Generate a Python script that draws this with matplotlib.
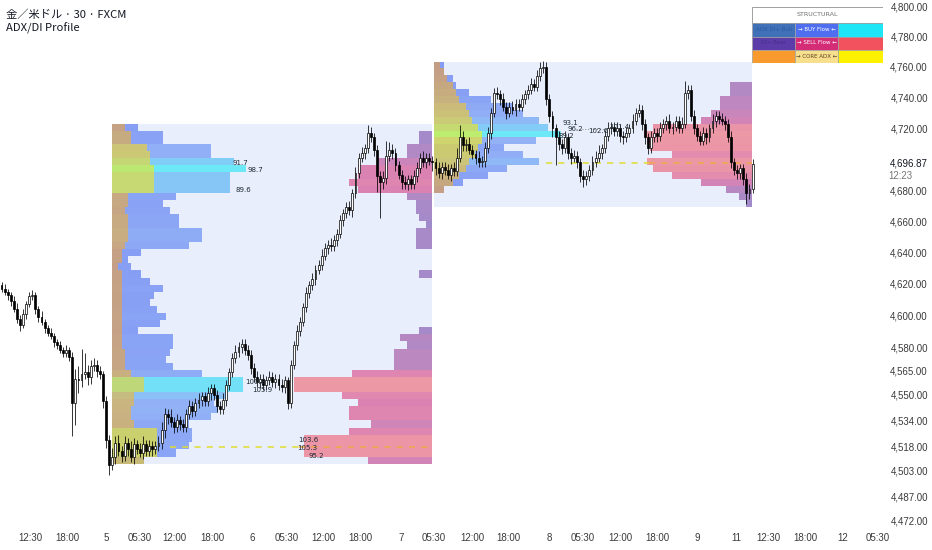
import matplotlib.pyplot as plt
import matplotlib.colors as mcolors
from matplotlib.patches import Rectangle
from matplotlib.ticker import NullLocator

plt.rcParams['font.family'] = ['DejaVu Sans Condensed', 'Liberation Sans Narrow', 'Liberation Sans', 'DejaVu Sans']

# ---- 30 min candles (XAU/USD) ----
first_open = 4619.0
closes = [
    4617, 4615, 4613, 4609, 4604, 4598, 4594, 4601, 4607, 4612,
    4613, 4604, 4599, 4596, 4592, 4589, 4587, 4583, 4581, 4578,
    4576, 4578, 4574, 4545, 4560, 4559, 4563, 4564, 4561, 4568,
    4569, 4565, 4563, 4546, 4522, 4506, 4511, 4520, 4515, 4512,
    4520, 4516, 4511, 4519, 4516, 4514, 4519, 4515, 4518, 4516,
    4518, 4520, 4528, 4538, 4536, 4533, 4530, 4534, 4532, 4530,
    4538, 4543, 4540, 4545, 4547, 4549, 4546, 4551, 4554, 4550,
    4543, 4541, 4547, 4556, 4564, 4573, 4577, 4580, 4582, 4578,
    4575, 4567, 4561, 4558, 4560, 4556, 4559, 4561, 4558, 4560,
    4556, 4555, 4559, 4545, 4569, 4581, 4590, 4596, 4605, 4614,
    4619, 4623, 4629, 4632, 4638, 4643, 4645, 4644, 4648, 4652,
    4661, 4665, 4669, 4667, 4678, 4691, 4701, 4704, 4707, 4717,
    4714, 4706, 4689, 4685, 4688, 4702, 4706, 4704, 4696, 4690,
    4685, 4684, 4687, 4684, 4689, 4694, 4701, 4698, 4701, 4699,
    4698, 4694, 4691, 4695, 4693, 4690, 4694, 4692, 4701, 4714,
    4709, 4710, 4706, 4703, 4701, 4698, 4699, 4707, 4717, 4730,
    4743, 4742, 4739, 4734, 4730, 4734, 4732, 4736, 4734, 4739,
    4742, 4745, 4749, 4747, 4754, 4759, 4760, 4739, 4728, 4720,
    4714, 4710, 4707, 4714, 4704, 4701, 4702, 4698, 4689, 4687,
    4689, 4693, 4698, 4701, 4704, 4707, 4715, 4720, 4721, 4718,
    4720, 4715, 4714, 4717, 4720, 4725, 4730, 4732, 4723, 4714,
    4707, 4714, 4717, 4715, 4720, 4723, 4725, 4720, 4721, 4725,
    4720, 4723, 4743, 4745, 4728, 4720, 4715, 4712, 4717, 4714,
    4720, 4725, 4728, 4726, 4725, 4723, 4714, 4698, 4693, 4691,
    4694, 4687, 4678, 4681, 4696.87,
]
upper_wick = [
    2, 3, 2, 2, 3, 4, 2, 3, 2, 3,   3, 2, 2, 4, 2, 2, 3, 2, 2, 3,
    2, 3, 2, 3, 6, 8, 16, 12, 5, 4,  4, 3, 3, 2, 3, 3, 6, 4, 5, 3,
    4, 3, 5, 4, 3, 4, 5, 3, 4, 3,   3, 4, 5, 4, 3, 5, 3, 4, 3, 3,
    3, 4, 3, 3, 4, 3, 3, 4, 3, 3,   3, 3, 4, 3, 3, 3, 4, 3, 3, 3,
    3, 3, 3, 4, 3, 3, 3, 4, 3, 3,   3, 4, 3, 2, 3, 3, 4, 3, 3, 4,
    3, 4, 3, 3, 4, 3, 3, 4, 3, 3,   3, 3, 3, 4, 3, 4, 3, 4, 3, 5,
    4, 3, 3, 3, 4, 10, 5, 4, 3, 3,  3, 4, 3, 3, 4, 4, 3, 4, 3, 3,
    3, 3, 4, 3, 3, 4, 3, 4, 6, 8,   4, 3, 4, 3, 3, 4, 3, 4, 4, 3,
    3, 4, 3, 4, 3, 3, 4, 3, 3, 3,   3, 3, 4, 3, 4, 4, 4, 3, 3, 3,
    3, 4, 3, 4, 3, 3, 4, 3, 3, 4,   3, 3, 4, 4, 5, 3, 4, 4, 3, 3,
    4, 3, 3, 4, 3, 4, 3, 4, 3, 3,   3, 4, 3, 3, 4, 3, 3, 4, 3, 3,
    3, 4, 8, 3, 3, 4, 3, 3, 4, 3,   3, 4, 3, 3, 4, 3, 3, 4, 3, 3,
    3, 3, 4, 3, 3,
]
lower_wick = [
    2, 2, 3, 3, 2, 3, 4, 2, 3, 2,   2, 3, 3, 2, 3, 2, 2, 3, 2, 2,
    2, 2, 3, 21, 14, 8, 4, 3, 5, 4, 3, 4, 3, 4, 5, 6, 3, 4, 3, 4,
    3, 4, 3, 4, 3, 3, 4, 3, 3, 4,   3, 3, 4, 5, 4, 3, 4, 3, 4, 3,
    3, 3, 4, 3, 3, 4, 3, 3, 4, 3,   4, 3, 3, 4, 3, 3, 3, 3, 4, 3,
    3, 4, 3, 3, 4, 3, 3, 3, 3, 4,   3, 3, 4, 4, 3, 3, 3, 3, 3, 3,
    3, 3, 4, 3, 3, 3, 4, 3, 3, 4,   3, 4, 3, 3, 4, 3, 3, 3, 4, 3,
    3, 4, 10, 23, 4, 4, 3, 4, 4, 3, 4, 3, 4, 3, 3, 4, 3, 3, 4, 3,
    6, 4, 3, 4, 3, 3, 4, 3, 3, 3,   4, 4, 3, 3, 4, 3, 3, 4, 3, 4,
    3, 3, 4, 3, 4, 3, 3, 4, 3, 3,   3, 3, 3, 3, 3, 3, 3, 4, 4, 6,
    18, 4, 4, 3, 4, 4, 3, 4, 4, 5,  4, 3, 3, 3, 3, 4, 3, 3, 4, 3,
    3, 4, 4, 3, 3, 3, 3, 3, 4, 4,   4, 3, 3, 4, 3, 3, 4, 3, 4, 3,
    3, 3, 3, 4, 3, 4, 3, 3, 3, 4,   3, 3, 4, 3, 3, 4, 3, 4, 3, 4,
    4, 4, 7, 4, 3,
]

# ---- ADX/DI volume-style profiles (percent of profile width per 4.5 row) ----
row_size = 4.5
p1_span = (35.9, 139.9)
p1_base = 4507.0
p1_buy = [10, 20, 24, 25, 25, 24, 31, 33, 32, 36, 41, 41, 28, 19, 17, 18, 19, 19, 8, 15,
          17, 14, 12, 13, 16, 12, 9, 6, 5, 9, 24, 28, 28, 21, 21, 18, 16, 20, 37, 37,
          37, 42, 38, 31, 31, 16, 16, 8]
p1_core = [10, 14, 14, 14, 14, 7, 6, 6, 7, 7, 10, 10, 6, 4, 4, 4, 3, 3, 3, 3,
           3, 3, 3, 3, 3, 3, 3, 2, 3, 3, 4, 5, 5, 5, 5, 4, 5, 5, 13, 13,
           13, 13, 12, 12, 11, 6, 6, 4]
p1_sell = [20, 40, 40, 40, 26, 19, 26, 26, 23, 28, 43, 43, 25, 12, 12, 12, 8, 10, 4, 0,
           0, 0, 0, 0, 0, 0, 4, 0, 0, 0, 5, 5, 5, 2, 4, 5, 5, 8, 23, 26,
           23, 23, 17, 8, 8, 4, 4, 0]

p2_span = (140.5, 243.8)
p2_base = 4669.0
p2_buy = [0, 0, 3, 9, 17, 23, 33, 28, 22, 32, 40, 36, 33, 28, 25, 18, 11, 7, 6, 3, 3]
p2_core = [0, 0, 3, 6, 8, 10, 11, 13, 14, 15, 15, 14, 12, 11, 10, 8, 7, 6, 4, 3, 2]
p2_sell = [2, 4, 8, 16, 25, 31, 33, 25, 32, 33, 34, 31, 16, 13, 10, 10, 7, 7, 0, 0, 0]

# DI readings printed inside the profiles: (text, bar, price)
di_labels = [
    ("91.7", 75.2, 4697.5), ("98.7", 79.8, 4693.0), ("89.6", 75.9, 4680.0),
    ("100.8", 79.1, 4558.0), ("105.9", 81.4, 4553.0),
    ("103.6", 96.3, 4522.0), ("105.3", 96.0, 4517.0), ("95.2", 99.6, 4512.0),
    ("93.1", 182.4, 4723.5), ("96.2", 184.0, 4719.8), ("102.6", 190.5, 4718.0),
    ("89.2", 180.8, 4715.0), ("101.4", 197.5, 4720.5),
]
# core levels: (bar from, bar to, price)
core_levels = [(54.8, 96.5, 4517.4), (96.5, 139.9, 4517.4),
               (177.0, 210.5, 4697.6), (210.5, 243.8, 4697.6)]
grey_levels = [(186.5, 197.5, 4719.5)]

yticks = [4800, 4780, 4760, 4740, 4720, 4680, 4660, 4640, 4620, 4600, 4580,
          4565, 4550, 4534, 4518, 4503, 4487, 4472]
xtick_pos = [9.3, 21.3, 34.0, 45.0, 56.0, 68.4, 81.4, 92.8, 104.5, 116.5, 129.8, 140.5,
             152.9, 164.6, 177.9, 188.9, 201.0, 213.0, 226.0, 238.6, 249.0, 261.0, 273.4, 284.8]
xtick_text = ['12:30', '18:00', '5', '05:30', '12:00', '18:00', '6', '05:30', '12:00', '18:00',
              '7', '05:30', '12:00', '18:00', '8', '05:30', '12:00', '18:00', '9', '11',
              '12:30', '18:00', '12', '05:30']

fig = plt.figure(figsize=(9.32, 5.5), dpi=100)
ax = fig.add_axes([0, 24 / 550, 1, 526 / 550])
ax.set_yscale('log')
ax.set_ylim(4468.6, 4804.0)
ax.set_xlim(-0.49, 302.3)
for s in ax.spines.values():
    s.set_visible(False)

buy_cmap = mcolors.LinearSegmentedColormap.from_list(
    'buy', [(0, '#4a6cf0'), (0.65, '#5f8ff3'), (1, '#22e5f5')])
core_cmap = mcolors.LinearSegmentedColormap.from_list('core', ['#f89a2e', '#fff200'])
sell_cmap = mcolors.LinearSegmentedColormap.from_list(
    'sell', [(0, '#5b3ca8'), (0.55, '#d42c76'), (1, '#f2525e')])


def draw_profile(span, base, buy, core, sell):
    x0, x1 = span
    w = x1 - x0
    n = len(buy)
    ax.add_patch(Rectangle((x0, base), w, n * row_size, fc='#e8eefc', lw=0, zorder=1))
    bmax, cmax, smax = max(buy), max(core), max(sell)
    for k in range(n):
        y = base + k * row_size
        if buy[k]:
            t = (buy[k] / bmax) ** 2
            ax.add_patch(Rectangle((x0, y), w * buy[k] / 100, row_size, fc=buy_cmap(t),
                                   alpha=0.62, lw=0, zorder=2))
        if core[k]:
            t = (core[k] / cmax) ** 1.5
            ax.add_patch(Rectangle((x0, y), w * core[k] / 100, row_size, fc=core_cmap(t),
                                   alpha=0.55, lw=0, zorder=3))
        if sell[k]:
            t = sell[k] / smax
            ax.add_patch(Rectangle((x1 - w * sell[k] / 100, y), w * sell[k] / 100, row_size,
                                   fc=sell_cmap(t), alpha=0.55, lw=0, zorder=2))


draw_profile(p1_span, p1_base, p1_buy, p1_core, p1_sell)
draw_profile(p2_span, p2_base, p2_buy, p2_core, p2_sell)

for j, (a, b, p) in enumerate(core_levels):
    col = '#e0dc30' if j % 2 == 0 else '#f0a848'
    ax.plot([a, b], [p, p], color=col, lw=1.1, ls=(0, (4, 4)), zorder=4)
for a, b, p in grey_levels:
    ax.plot([a, b], [p, p], color='#888888', lw=0.7, ls=(0, (1, 2)), zorder=4)

# candles
opens = [first_open] + closes[:-1]
for i, (o, c, uw, lw_) in enumerate(zip(opens, closes, upper_wick, lower_wick)):
    hi = max(o, c) + uw
    lo = min(o, c) - lw_
    ax.vlines(i, lo, hi, color='black', lw=0.55, zorder=5)
    body = max(abs(c - o), 0.5)
    fc = 'white' if c >= o else 'black'
    ax.bar(i, body, bottom=min(o, c), width=0.62, color=fc, edgecolor='black',
           linewidth=0.5, zorder=6)

for txt, xb, p in di_labels:
    ax.text(xb, p, txt, fontsize=5.0, color='#1c2a33', va='center', ha='left', zorder=7,
            family=['DejaVu Sans'])

ax.set_xticks(xtick_pos)
ax.set_xticklabels(xtick_text)
ax.tick_params(axis='x', length=0, pad=5, labelsize=7, labelcolor='#3a3a3a')
ax.yaxis.tick_right()
ax.set_yticks(yticks)
ax.yaxis.set_minor_locator(NullLocator())
ax.set_yticklabels([f'{v:,.2f}' for v in yticks])
ax.tick_params(axis='y', length=0, pad=-3, labelsize=7, labelcolor='#3a3a3a')
for lab in ax.get_yticklabels():
    lab.set_horizontalalignment('right')

fig.text(928 / 932, 1 - 164 / 550, '4,696.87', fontsize=7, color='#131722', va='center', ha='right')
fig.text(888 / 932, 1 - 176 / 550, '12:23', fontsize=7, color='#777777', va='center', ha='left')

fig.text(6 / 932, 1 - 15 / 550, '金／米ドル · 30 · FXCM', fontsize=8.1, color='#131722',
         va='center', family=['Noto Sans CJK JP', 'DejaVu Sans'])
fig.text(6 / 932, 1 - 28 / 550, 'ADX/DI Profile', fontsize=8.1, color='#131722',
         va='center', family=['Noto Sans CJK JP', 'DejaVu Sans'])

# structural legend table
tab = fig.add_axes([752 / 932, 1 - 63 / 550, 131 / 932, 56 / 550])
tab.set_xlim(0, 131)
tab.set_ylim(56, 0)
tab.axis('off')
tab.add_patch(Rectangle((0, 0), 131, 16, fc='white', ec='#a0a0a0', lw=0.7))
tab.text(65.5, 8, 'STRUCTURAL', fontsize=4.6, color='#707070', ha='center', va='center',
         family=['DejaVu Sans'])
cells = [
    [('#3f70b8', 'ADX DI+ Bull', '#2c5a9c'), ('#4f6ff0', '→ BUY Flow ←', 'white'), ('#1ee6f6', '', 'k')],
    [('#5b3ca8', 'DI− Bear', '#472f8c'), ('#d42c76', '→ SELL Flow ←', 'white'), ('#f2525e', '', 'k')],
    [('#f89a2e', '', 'k'), ('#f7df8e', '→ CORE ADX ←', '#5a4020'), ('#fff200', '', 'k')],
]
col_x = [0, 43, 86, 131]
row_y = [16, 29.5, 42.5, 56]
for r, row in enumerate(cells):
    for c, (fc, txt, tc) in enumerate(row):
        tab.add_patch(Rectangle((col_x[c], row_y[r]), col_x[c + 1] - col_x[c],
                                row_y[r + 1] - row_y[r], fc=fc, ec='#a0a0a0', lw=0.5))
        if txt:
            tab.text((col_x[c] + col_x[c + 1]) / 2, (row_y[r] + row_y[r + 1]) / 2, txt,
                     fontsize=4.0, color=tc, ha='center', va='center', family=['DejaVu Sans'])

fig.savefig('out.png', dpi=100)
